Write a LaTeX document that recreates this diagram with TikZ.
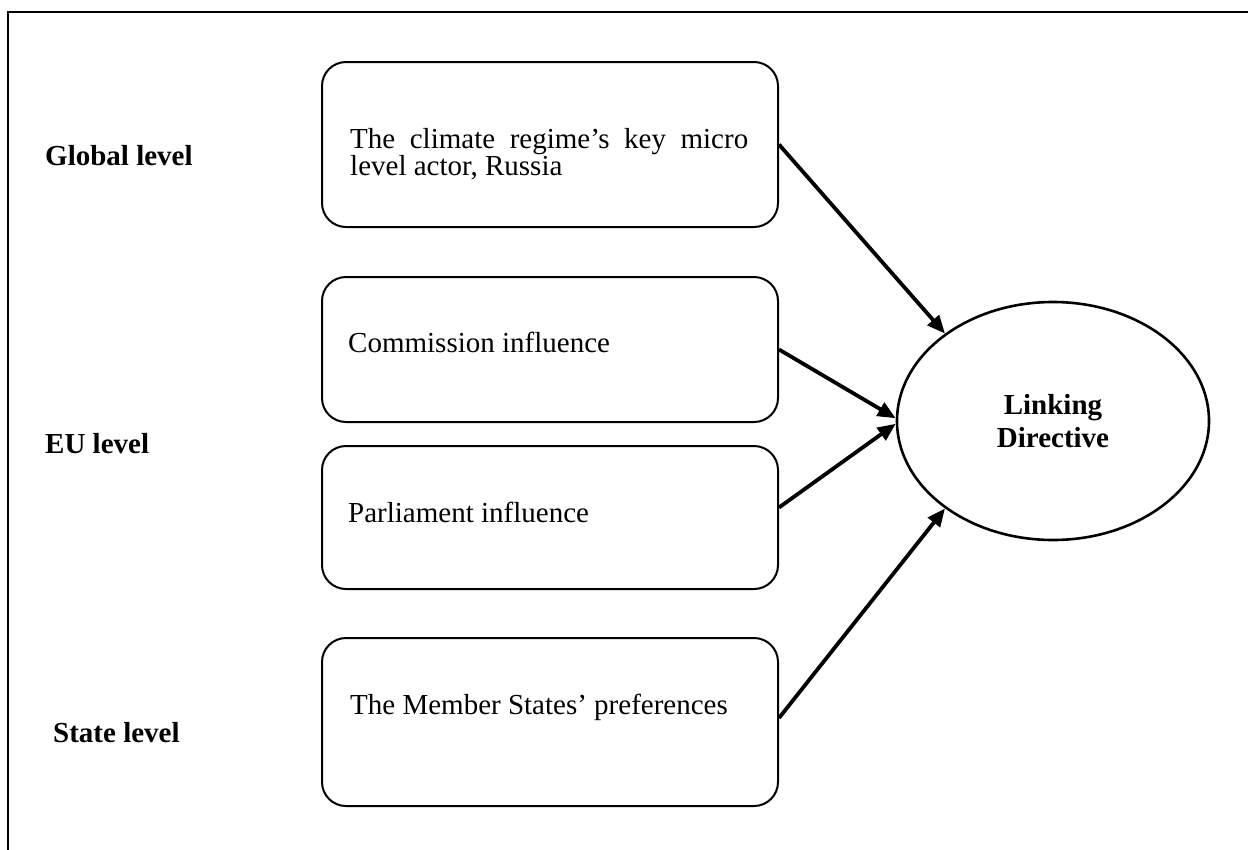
\documentclass[tikz,border=0pt]{standalone}
\usepackage{fontspec}
\setmainfont{Liberation Serif}
\usetikzlibrary{arrows.meta,shapes.geometric,calc}
\begin{document}
\begin{tikzpicture}[x=1pt,y=-1pt,
  txt/.style={font=\fontsize{29}{24}\selectfont, inner sep=0pt, anchor=base west},
  lvl/.style={font=\fontsize{29}{24}\selectfont\bfseries, inner sep=0pt, anchor=base west},
  box/.style={draw, line width=2pt, rounded corners=24pt, minimum width=456pt, inner sep=0pt},
  goal/.style={draw, ellipse, line width=2.6pt, minimum width=312pt, minimum height=238pt, inner sep=0pt,
    font=\fontsize{29}{33}\selectfont\bfseries, align=center},
  arr/.style={line width=3.8pt, -{Triangle[length=18pt,width=15pt]}}
]
\path[use as bounding box] (0,0) rectangle (1248,849);
\clip (0,0) rectangle (1248,849);
% outer frame (right and bottom edges fall outside the picture)
\draw[line width=2.2pt] (8,870) -- (8,12) -- (1270,12);

% level labels
\node[lvl] (gl) at (45,165) {Global level};
\node[lvl] (eu) at (45,453) {EU level};
\node[lvl] (sl) at (53,742) {State level};

% boxes
\node[box, minimum height=165pt] (b1) at (550,144.5) {};
\node[box, minimum height=145pt] (b2) at (550,349.5) {};
\node[box, minimum height=143pt] (b3) at (550,517.5) {};
\node[box, minimum height=168pt] (b4) at (550,722) {};

% box texts
\node[txt, text width=398pt, align=justify] (t1) at (350,148) {The climate regime’s key micro level actor, Russia};
\node[txt] (t2) at (348,352) {Commission influence};
\node[txt] (t3) at (348,522) {Parliament influence};
\node[txt] (t4) at (350,714) {The Member States’ preferences};

% goal ellipse
\node[goal] (ld) at (1053,421) {Linking\\Directive};

% arrows
\draw[arr] (b1.east) -- (ld.141);
\draw[arr] (b2.east) -- (ld.179);
\draw[arr] ($(b3.east)+(0,-10)$) -- (ld.181);
\draw[arr] ($(b4.east)+(0,-4)$) -- (ld.219);
\end{tikzpicture}
\end{document}
